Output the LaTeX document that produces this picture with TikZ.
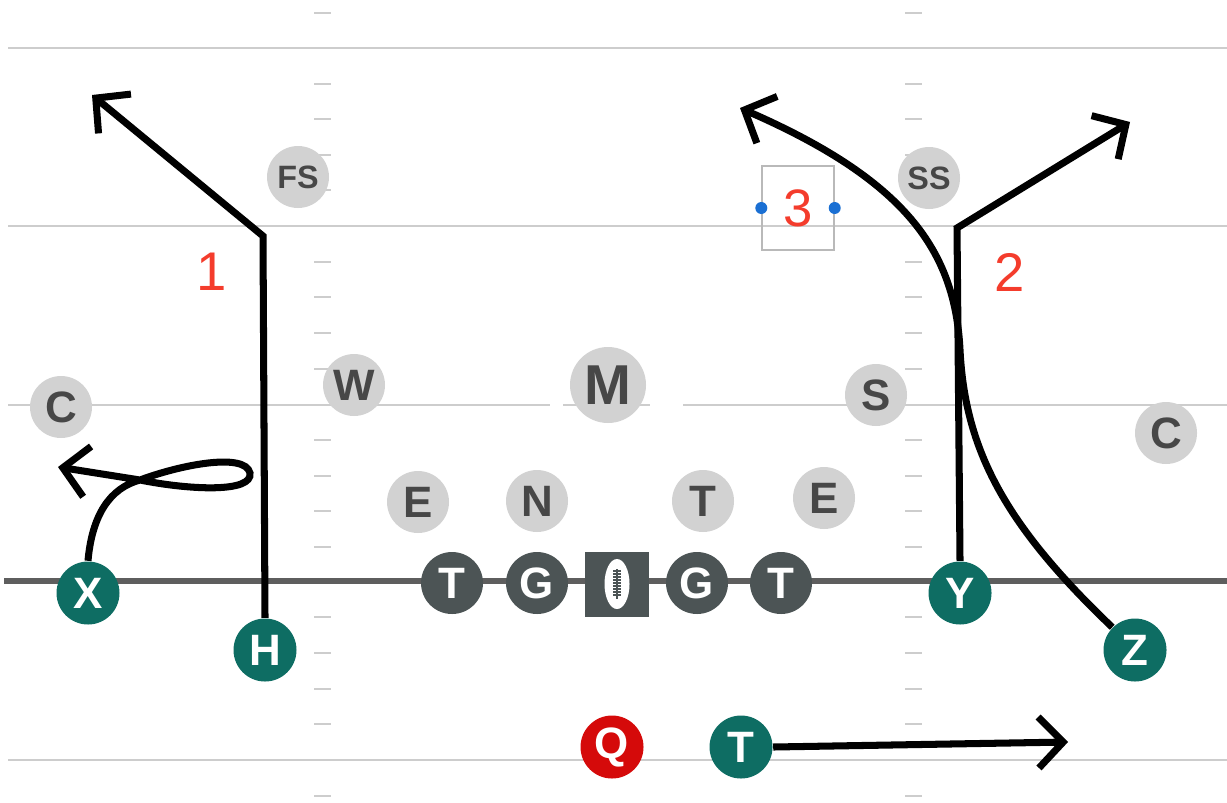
\documentclass[tikz,border=0pt]{standalone}
\usepackage{fontspec}
\setmainfont{Liberation Sans}
\usetikzlibrary{arrows.meta}
\definecolor{offcol}{HTML}{0E6D63}
\definecolor{linecol}{HTML}{4C5455}
\definecolor{defcol}{HTML}{D2D2D2}
\definecolor{deftext}{HTML}{474747}
\definecolor{qbcol}{HTML}{D50A0A}
\definecolor{numred}{HTML}{F43C2C}
\definecolor{yardcol}{HTML}{CDCDCD}
\definecolor{loscol}{HTML}{5E5E5E}
\definecolor{dotblue}{HTML}{1A6FD3}
\tikzset{
  yard/.style={draw=yardcol, line width=0.6pt},
  hashmark/.style={draw=yardcol, line width=0.6pt},
  offp/.style={circle, fill=offcol, text=white, minimum size=6.3mm, inner sep=0pt,
    font=\bfseries\fontsize{12.5pt}{12.5pt}\selectfont},
  linep/.style={offp, fill=linecol, minimum size=6.2mm},
  defp/.style={circle, fill=defcol, text=deftext, minimum size=6.2mm, inner sep=0pt,
    font=\bfseries\fontsize{12.5pt}{12.5pt}\selectfont},
  safety/.style={defp, font=\bfseries\fontsize{9.2pt}{9.2pt}\selectfont},
  route/.style={draw=black, line width=2pt, -{Straight Barb[length=7pt, width=14.5pt]}},
  routenum/.style={text=numred, inner sep=0pt, font=\fontsize{15.5pt}{15.5pt}\selectfont}
}
\begin{document}
\begin{tikzpicture}[x=0.1mm, y=-0.1mm]
\useasboundingbox (0,0) rectangle (1227,802);

% yard lines
\draw[yard] (8,48) -- (1227,48);
\draw[yard] (8,226) -- (1227,226);
\draw[yard] (8,405) -- (550,405);
\draw[yard] (563,405) -- (650,405);
\draw[yard] (683,405) -- (1227,405);
\draw[yard] (8,760) -- (1227,760);

% hash marks
\foreach \y in {13,84,119,155,190,262,297,333,369,440,476,511,547,617,653,689,724,796} {
  \draw[hashmark] (314,\y) -- (331,\y);
  \draw[hashmark] (905,\y) -- (922,\y);
}

% line of scrimmage
\draw[draw=loscol, line width=1.6pt] (4,581) -- (1227,581);

% defense
\node[safety] (FS) at (298,177) {FS};
\node[safety] (SS) at (929,178) {SS};
\node[defp] (W) at (354,385) {W};
\node[defp, minimum size=7.6mm, font=\bfseries\fontsize{16pt}{16pt}\selectfont] (M) at (608,385) {M};
\node[defp] (S) at (876,395) {S};
\node[defp] (CL) at (61,407) {C};
\node[defp] (CR) at (1166,433) {C};
\node[defp] (EL) at (418,502) {E};
\node[defp] (N) at (537,501) {N};
\node[defp] (DT) at (703,501) {T};
\node[defp] (ER) at (824,498) {E};

% offense
\node[offp] (X) at (88,593) {X};
\node[offp] (H) at (265,650) {H};
\node[offp] (Y) at (960,593) {Y};
\node[offp] (Z) at (1135,650) {Z};
\node[offp] (TB) at (741,747) {T};
\node[offp, fill=qbcol] (Q) at (612,747) {Q};
\node[linep] (LT) at (452,583) {T};
\node[linep] (LG) at (537,583) {G};
\node[linep] (RG) at (697,583) {G};
\node[linep] (RT) at (781,583) {T};

% center: the ball
\node[rectangle, fill=linecol, minimum width=6.4mm, minimum height=6.5mm, inner sep=0pt] (ball) at (617,584) {};
\fill[white] (ball.center) ellipse [x radius=1.25mm, y radius=2.5mm];
\draw[linecol, line width=0.5pt] (617,569) -- (617,599);
\foreach \y in {571,574,...,597} {
  \draw[linecol, line width=0.4pt] (613,\y) -- (621,\y);
}

% route bends and ends
\coordinate (h1) at (263,236);
\coordinate (h2) at (92,95);
\coordinate (y1) at (957,228);
\coordinate (y2) at (1130,122);
\coordinate (z1) at (960,350);
\coordinate (z2) at (740,108);
\coordinate (x1) at (140,480);
\coordinate (x2) at (250,473);
\coordinate (x3) at (58,467);
\coordinate (t1) at (1068,742);

% routes
\draw[route] (H.north) -- (h1) -- (h2);
\draw[route] (Y.north) -- (y1) -- (y2);
\draw[route] (Z.north west) .. controls (1005,525) and (965,450) .. (z1)
  .. controls (955,250) and (905,180) .. (z2);
\draw[route] (X.north) .. controls (92,515) and (110,488) .. (x1)
  .. controls (180,465) and (245,452) .. (x2)
  .. controls (253,493) and (190,490) .. (x1)
  -- (x3);
\draw[route] (TB.east) -- (t1);

% route numbers
\node[routenum] (n1) at (212,272) {1};
\node[routenum] (n2) at (1010,272) {2};
\node[draw=gray!55, line width=0.4pt, minimum width=7.2mm, minimum height=8.4mm, inner sep=0pt,
  text=numred, font=\fontsize{15pt}{15pt}\selectfont] (n3) at (798,208) {3};
\fill[dotblue] (n3.west) circle (0.6mm);
\fill[dotblue] (n3.east) circle (0.6mm);
\end{tikzpicture}
\end{document}
